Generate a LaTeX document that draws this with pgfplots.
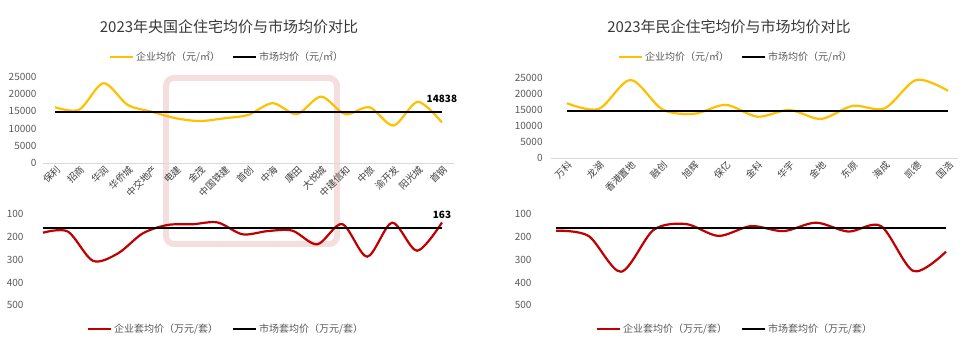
\documentclass[border=0pt]{standalone}
\usepackage{fontspec}
\setmainfont{Noto Sans CJK SC}
\usepackage{pgfplots}
\pgfplotsset{compat=1.18}
\definecolor{cy}{HTML}{FFC000}
\definecolor{cr}{HTML}{C00000}
\definecolor{tx}{HTML}{595959}
\definecolor{seal}{HTML}{F5DEDE}
\pgfplotsset{
 base/.style={scale only axis, axis line style={draw=none}, major tick length=0,
   tick label style={font=\fontsize{10}{12}\selectfont, text=tx},
   /pgf/number format/assume math mode=true, /pgf/number format/1000 sep={},
   scaled y ticks=false, clip=false},
 cat/.style={xticklabel style={rotate=45, anchor=north east, inner sep=0pt, text height=7pt, text depth=1pt, xshift=-1pt, yshift=-2pt, font=\fontsize{9.5}{11}\selectfont, text=black!75}},
}
\begin{document}
\begin{tikzpicture}
\path[use as bounding box] (0,0) rectangle (960pt,353pt);
% watermark frame
\draw[seal, line width=6pt, rounded corners=8pt] (166pt,275pt) rectangle (337pt,109pt);
% titles
\node[font=\fontsize{15}{18}\selectfont, text=black!78] at (229pt,326pt) {2023年央国企住宅均价与市场均价对比};
\node[font=\fontsize{15}{18}\selectfont, text=black!78] at (729pt,326pt) {2023年民企住宅均价与市场均价对比};
% ---------------- left top
\begin{axis}[base, cat, at={(43pt,190pt)}, anchor=south west, width=411pt, height=86pt,
  xmin=-0.5, xmax=16.5, ymin=0, ymax=25000, ytick={0,5000,10000,15000,20000,25000},
  yticklabel style={xshift=-3pt},
  xtick={0,...,16},
  xticklabels={保利,招商,华润,华侨城,中交地产,电建,金茂,中国铁建,首创,中海,康田,大悦城,中建信和,中旅,渝开发,阳光城,首钢}]
\draw[black!15, line width=0.6pt] (axis cs:-0.5,0) -- (axis cs:16.5,0);
\addplot[cy, line width=2.2pt, smooth] coordinates {(0,16200)(1,15500)(2,23200)(3,16900)(4,14900)(5,13000)(6,12200)(7,13000)(8,14000)(9,17400)(10,14200)(11,19300)(12,14200)(13,16200)(14,10900)(15,17800)(16,11800)};
\addplot[black, line width=2.2pt] coordinates {(0,14838)(1,14838)(2,14838)(3,14838)(4,14838)(5,14838)(6,14838)(7,14838)(8,14838)(9,14838)(10,14838)(11,14838)(12,14838)(13,14838)(14,14838)(15,14838)(16,14838)} node[pos=1, anchor=south, yshift=5pt, font=\bfseries\fontsize{10}{12}\selectfont] {14838};
\end{axis}
% ---------------- left bottom
\begin{axis}[base, at={(43pt,47.7pt)}, anchor=south west, width=399pt, height=91.3pt,
  xmin=0, xmax=16, ymin=100, ymax=500, y dir=reverse, ytick={100,200,300,400,500},
  yticklabel style={xshift=-16pt}, xtick=\empty]
\addplot[cr, line width=2.2pt, smooth] coordinates {(0,182)(1,177)(2,305)(3,273)(4,185)(5,148)(6,145)(7,137)(8,189)(9,175)(10,173)(11,233)(12,144)(13,287)(14,138)(15,261)(16,137)};
\addplot[black, line width=2.2pt] coordinates {(0,163)(1,163)(2,163)(3,163)(4,163)(5,163)(6,163)(7,163)(8,163)(9,163)(10,163)(11,163)(12,163)(13,163)(14,163)(15,163)(16,163)} node[pos=1, anchor=south, yshift=5pt, font=\bfseries\fontsize{10}{12}\selectfont] {163};
\end{axis}
% ---------------- right top
\begin{axis}[base, cat, at={(551.1pt,194.7pt)}, anchor=south west, width=406.5pt, height=80pt,
  xmin=-0.5, xmax=12.3, ymin=0, ymax=25000, ytick={0,5000,10000,15000,20000,25000},
  yticklabel style={xshift=-5pt},
  xtick={0,...,12},
  xticklabels={万科,龙湖,香港置地,融创,旭辉,保亿,金科,华宇,金地,东原,海成,凯德,国浩}]
\draw[black!15, line width=0.6pt] (axis cs:-0.5,0) -- (axis cs:12.3,0);
\addplot[cy, line width=2.2pt, smooth] coordinates {(0,17200)(1,15400)(2,24500)(3,15300)(4,13900)(5,16700)(6,13000)(7,15100)(8,12300)(9,16400)(10,15600)(11,24500)(12,21100)};
\addplot[black, line width=2.2pt] coordinates {(0,14838)(1,14838)(2,14838)(3,14838)(4,14838)(5,14838)(6,14838)(7,14838)(8,14838)(9,14838)(10,14838)(11,14838)(12,14838)};
\end{axis}
% ---------------- right bottom
\begin{axis}[base, at={(556pt,47.7pt)}, anchor=south west, width=390pt, height=91.3pt,
  xmin=0, xmax=12, ymin=100, ymax=500, y dir=reverse, ytick={100,200,300,400,500},
  yticklabel style={xshift=-21pt}, xtick=\empty]
\addplot[cr, line width=2.2pt, smooth] coordinates {(0,173)(1,196)(2,353)(3,170)(4,144)(5,196)(6,153)(7,175)(8,138)(9,177)(10,153)(11,350)(12,265)};
\addplot[black, line width=2.2pt] coordinates {(0,163)(1,163)(2,163)(3,163)(4,163)(5,163)(6,163)(7,163)(8,163)(9,163)(10,163)(11,163)(12,163)};
\end{axis}
% legends
\begin{scope}[font=\fontsize{10}{12}\selectfont]
\draw[cy, line width=2.2pt] (110pt,296pt) -- (133pt,296pt);
\node[anchor=west, text=tx, inner sep=1pt] at (135pt,296pt) {企业均价（元/㎡）};
\draw[black, line width=2.2pt] (233pt,296pt) -- (256pt,296pt);
\node[anchor=west, text=tx, inner sep=1pt] at (258pt,296pt) {市场均价（元/㎡）};
\draw[cr, line width=2.2pt] (88pt,24pt) -- (111pt,24pt);
\node[anchor=west, text=tx, inner sep=1pt] at (113pt,24pt) {企业套均价（万元/套）};
\draw[black, line width=2.2pt] (233pt,24pt) -- (256pt,24pt);
\node[anchor=west, text=tx, inner sep=1pt] at (258pt,24pt) {市场套均价（万元/套）};
\draw[cy, line width=2.2pt] (619pt,296pt) -- (642pt,296pt);
\node[anchor=west, text=tx, inner sep=1pt] at (644pt,296pt) {企业均价（元/㎡）};
\draw[black, line width=2.2pt] (742pt,296pt) -- (765pt,296pt);
\node[anchor=west, text=tx, inner sep=1pt] at (767pt,296pt) {市场均价（元/㎡）};
\draw[cr, line width=2.2pt] (597pt,24pt) -- (620pt,24pt);
\node[anchor=west, text=tx, inner sep=1pt] at (622pt,24pt) {企业套均价（万元/套）};
\draw[black, line width=2.2pt] (742pt,24pt) -- (765pt,24pt);
\node[anchor=west, text=tx, inner sep=1pt] at (767pt,24pt) {市场套均价（万元/套）};
\end{scope}
\end{tikzpicture}
\end{document}
